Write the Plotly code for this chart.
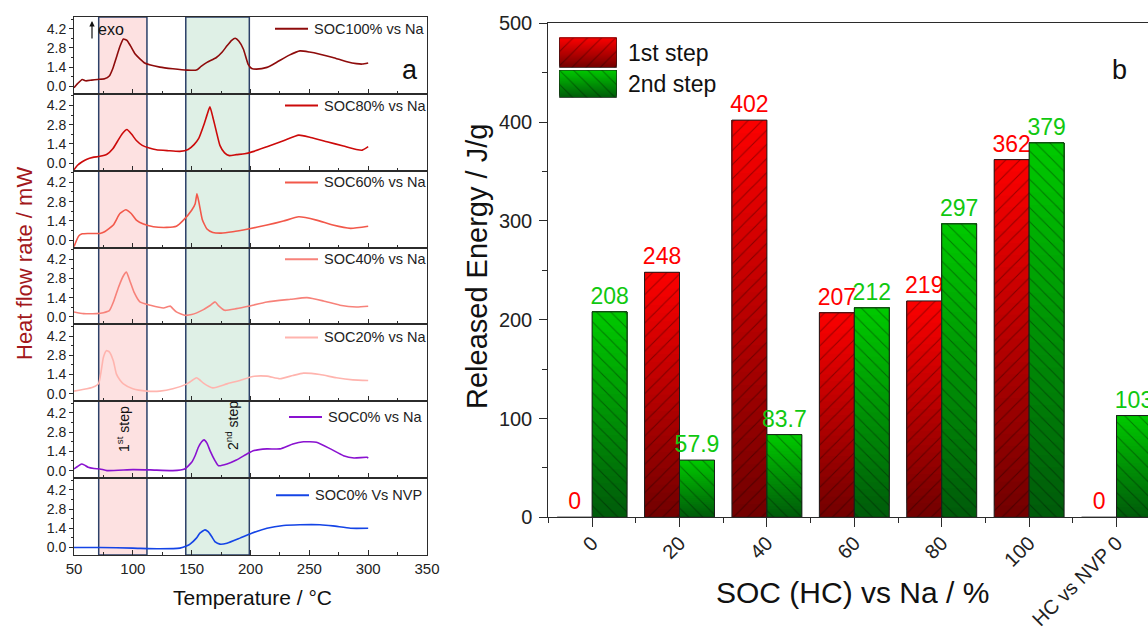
import plotly.graph_objects as go

W, H = 1148, 634
FONT = "Arial, Liberation Sans, sans-serif"


def px(x):
    return x / W


def py(y):
    return 1 - y / H


# ---------------- data: panel a (DSC curves) ----------------
curve_names = ["SOC100% vs Na", "SOC80% vs Na", "SOC60% vs Na", "SOC40% vs Na",
               "SOC20% vs Na", "SOC0% vs Na", "SOC0% Vs NVP"]

T_soc100 = [50, 53, 57, 60, 65, 70, 76, 80, 83, 86, 89, 92, 95, 98, 102, 106, 110, 115, 123, 134, 146,
            154, 158, 163, 171, 176, 180, 184, 187, 190, 194, 198, 201, 205, 214, 222, 233, 242, 250, 259,
            270, 282, 290, 295, 300]
Q_soc100 = [-0.1, 0.2, 0.5, 0.4, 0.45, 0.5, 0.55, 0.75, 1.3, 2.1, 2.9, 3.45, 3.35, 2.95, 2.35, 2.0, 1.7,
            1.55, 1.4, 1.28, 1.18, 1.18, 1.45, 1.74, 2.1, 2.5, 2.95, 3.35, 3.5, 3.3, 2.7, 1.6, 1.3, 1.25,
            1.38, 1.74, 2.27, 2.58, 2.5, 2.34, 2.1, 1.79, 1.65, 1.62, 1.7]

T_soc80 = [50, 53, 57, 61, 66, 72, 78, 83, 87, 91, 95, 99, 103, 108, 114, 120, 130, 140, 147, 152, 156,
           160, 163, 165.5, 168, 171, 174, 178, 182, 188, 195, 202, 214, 228, 241, 251, 265, 279, 290,
           295, 300]
Q_soc80 = [-0.48, -0.15, 0.1, 0.29, 0.42, 0.5, 0.65, 1.05, 1.6, 2.15, 2.45, 2.1, 1.65, 1.3, 1.1, 0.98,
           0.91, 0.86, 1.0, 1.35, 1.8, 2.7, 3.5, 4.1, 3.35, 2.3, 1.3, 0.75, 0.55, 0.62, 0.68, 0.84, 1.2,
           1.63, 2.04, 1.87, 1.56, 1.25, 1.0, 0.95, 1.2]

T_soc60 = [50, 54, 57, 62, 72, 76, 83.4, 89, 94, 98.6, 103, 109, 117.5, 128.8, 137, 143, 150, 153,
           154.5, 156.5, 159, 163, 168, 175, 185, 198, 214, 228, 241, 256, 270, 285, 300]
Q_soc60 = [-0.48, 0.29, 0.45, 0.48, 0.48, 0.6, 1.09, 1.93, 2.2, 1.93, 1.45, 1.16, 0.97, 0.92, 1.0, 1.45,
           2.17, 2.65, 3.36, 2.6, 1.5, 0.8, 0.55, 0.5, 0.6, 0.8, 1.09, 1.38, 1.69, 1.45, 1.09, 0.85, 1.0]

T_soc40 = [50, 58, 69, 75, 80, 84, 88, 92, 94.5, 98, 101, 106, 115, 126, 130, 132, 134, 137, 144, 150,
           160, 166, 170, 173, 178, 188, 198, 214, 234, 248, 262, 276, 290, 300]
Q_soc40 = [0.36, 0.24, 0.24, 0.3, 0.45, 1.2, 2.2, 3.0, 3.26, 2.5, 1.8, 1.09, 0.85, 0.65, 0.75, 0.78,
           0.6, 0.36, 0.12, 0.17, 0.53, 0.85, 1.09, 0.8, 0.48, 0.6, 0.77, 1.09, 1.28, 1.4, 1.16, 0.85,
           0.72, 0.77]

T_soc20 = [50, 61, 68, 71, 73, 75, 77.5, 80, 83.4, 86, 89, 92, 100, 112, 123, 134, 146, 151, 154, 157,
           160, 168, 180, 191, 202, 214, 225, 236, 245, 259, 273, 287, 300]
Q_soc20 = [0.19, 0.36, 0.55, 0.75, 1.6, 2.66, 3.14, 3.05, 2.4, 1.45, 1.0, 0.72, 0.36, 0.19, 0.19, 0.36,
           0.72, 1.0, 1.16, 1.0, 0.77, 0.43, 0.72, 0.97, 1.26, 1.28, 1.09, 1.33, 1.5, 1.4, 1.16, 1.01,
           0.97]

T_soc0 = [50, 53, 56.5, 59, 62, 67, 72, 78, 100, 115, 134, 144, 150, 153, 155.7, 158.5, 160.5, 163,
          165.6, 169.8, 172.7, 180, 188, 198, 203, 214, 225, 236, 245, 256, 268, 279, 288, 299, 300]
Q_soc0 = [0.12, 0.3, 0.48, 0.4, 0.24, 0.15, 0.12, 0.0, 0.07, 0.05, 0.0, 0.12, 0.6, 1.1, 1.7, 2.1, 2.24,
          2.0, 1.46, 0.73, 0.36, 0.48, 0.77, 1.26, 1.46, 1.58, 1.58, 1.94, 2.1, 2.06, 1.58, 1.09, 0.92,
          0.97, 0.9]

T_nvp = [50, 72, 100, 123, 140, 146, 148.6, 154, 157, 161.3, 164, 167, 170, 174, 180, 191, 201, 214,
         228, 242, 259, 270, 285, 300]
Q_nvp = [0.0, 0.0, -0.05, -0.1, -0.05, 0.12, 0.24, 0.68, 1.04, 1.28, 1.15, 0.8, 0.4, 0.24, 0.31, 0.68,
         1.04, 1.4, 1.6, 1.65, 1.65, 1.57, 1.4, 1.4]

curve_T = [T_soc100, T_soc80, T_soc60, T_soc40, T_soc20, T_soc0, T_nvp]
curve_Q = [Q_soc100, Q_soc80, Q_soc60, Q_soc40, Q_soc20, Q_soc0, Q_nvp]
curve_colors = ["#8e0b0b", "#cc0a0a", "#f2584a", "#f7827a", "#ffb4ae", "#8a12d0", "#1444e6"]

step1_range = [71, 112]   # 1st step window (deg C)
step2_range = [145, 199]  # 2nd step window (deg C)

# ---------------- data: panel b (released energy) ----------------
soc_labels = ["0", "20", "40", "60", "80", "100", "HC vs NVP 0"]
energy_step1 = [0, 248, 402, 207, 219, 362, 0]
energy_step2 = [208, 57.9, 83.7, 212, 297, 379, 103]
series_names = ["1st step", "2nd step"]

# ---------------- figure ----------------
fig = go.Figure()
layout = dict(width=W, height=H, margin=dict(l=0, r=0, t=0, b=0, pad=0, autoexpand=False),
              paper_bgcolor="white", plot_bgcolor="rgba(0,0,0,0)",
              showlegend=False, barmode="overlay",
              font=dict(family=FONT, color="#111"))
annotations = []
shapes = []


def note(text, x, y, size, color="#111", angle=0, xanchor="center"):
    return dict(text=text, xref="paper", yref="paper", x=px(x), y=py(y), xanchor=xanchor,
                yanchor="middle", textangle=angle, showarrow=False,
                font=dict(size=size, color=color))


top_px, bot_px = 17, 555
n = len(curve_names)
hp = (bot_px - top_px) / n
legend_y = [4.2, 4.2, 4.2, 4.2, 4.1, 3.9, 3.8]
legend_text_x = [312, 322, 322, 322, 322, 326, 313]
AX = "#2b2b2b"

for k in range(n):
    xs = "" if k == 0 else str(k + 1)
    xname, yname = "x" + xs, "y" + xs
    fig.add_trace(go.Scatter(x=curve_T[k], y=curve_Q[k], mode="lines", xaxis=xname, yaxis=yname,
                             line=dict(color=curve_colors[k], width=1.6, shape="spline", smoothing=0.5),
                             hoverinfo="skip"))
    layout["xaxis" + xs] = dict(domain=[px(74), px(427)], range=[50, 350], anchor=yname,
                                automargin=False,
                                showline=True, mirror=True, linecolor=AX, linewidth=1,
                                ticks="inside", ticklen=5, tickcolor=AX, dtick=50, tick0=50,
                                minor=dict(ticks="inside", ticklen=3, dtick=25, tickcolor=AX),
                                showgrid=False, zeroline=False,
                                showticklabels=(k == n - 1),
                                tickfont=dict(size=15, color="#222"), ticklabelstandoff=0)
    layout["yaxis" + xs] = dict(domain=[py(top_px + (k + 1) * hp), py(top_px + k * hp)],
                                range=[-0.55, 5.05], anchor=xname, automargin=False,
                                showline=True, mirror=True, linecolor=AX, linewidth=1,
                                ticks="outside", ticklen=4, tickcolor=AX, tick0=0, dtick=1.4,
                                tickformat=".1f",
                                minor=dict(ticks="outside", ticklen=2, tick0=0, dtick=0.7, tickcolor=AX),
                                showgrid=False, zeroline=False,
                                tickfont=dict(size=14, color="#222"))
    # legend entries
    tx = legend_text_x[k]
    shapes.append(dict(type="line", xref="paper", yref=yname, x0=px(tx - 37), x1=px(tx - 4),
                       y0=legend_y[k], y1=legend_y[k], line=dict(color=curve_colors[k], width=2)))
    annotations.append(dict(text=curve_names[k], xref="paper", yref=yname, x=px(tx), y=legend_y[k],
                            xanchor="left", yanchor="middle", showarrow=False,
                            font=dict(size=14.5, color="#222")))

# shaded windows spanning all 7 panels
for rng, fc in [(step1_range, "#fde1e1"), (step2_range, "#dff0e6")]:
    shapes.append(dict(type="rect", xref="x", yref="paper", x0=rng[0], x1=rng[1],
                       y0=py(bot_px), y1=py(top_px), fillcolor=fc, layer="below",
                       line=dict(color="#2c4068", width=1.5)))

annotations += [
    note("a", 410, 70, 27),
    note("exo", 96, 29, 16, xanchor="left"),
    dict(text="", xref="paper", yref="paper", x=px(92), y=py(21), ax=0, ay=19, showarrow=True,
         arrowhead=2, arrowsize=0.9, arrowwidth=1.2, arrowcolor="#111"),
    note("1<sup>st</sup> step", 123, 429, 14, angle=-90),
    note("2<sup>nd</sup> step", 232, 426, 14, angle=-90),
    note("Heat flow rate / mW", 24, 264, 22, color="#a3181c", angle=-90),
    note("Temperature / °C", 252, 597, 21),
]


# ---------------- panel b: gradient + hatched bars ----------------
def mix(c0, c1, t):
    return "rgb(%d,%d,%d)" % tuple(round(a + (b - a) * t) for a, b in zip(c0, c1))


RED_BOT, RED_TOP = (115, 0, 0), (250, 0, 0)
GRN_BOT, GRN_TOP = (0, 92, 10), (0, 200, 0)
NSEG = 30


def gradient_bars(xpos, vals, offset, width, cbot, ctop, shape, xa, ya, text=None, tcolor=None):
    for i in range(NSEG):
        f = i / NSEG
        fig.add_trace(go.Bar(x=xpos, y=[v * (1 - f) for v in vals], base=[v * f for v in vals],
                             offset=offset, width=width, xaxis=xa, yaxis=ya,
                             marker=dict(color=mix(cbot, ctop, i / (NSEG - 1)), line=dict(width=0)),
                             hoverinfo="skip"))
    kw = {}
    if text is not None:
        kw = dict(text=text, textposition="outside", cliponaxis=False, constraintext="none",
                  textfont=dict(size=23, color=tcolor, family=FONT))
    fig.add_trace(go.Bar(x=xpos, y=vals, offset=offset, width=width, xaxis=xa, yaxis=ya,
                         marker=dict(color="rgba(0,0,0,0)", line=dict(color="#1c1c1c", width=1),
                                     pattern=dict(shape=shape, fgcolor="rgba(0,0,0,0.7)",
                                                  bgcolor="rgba(0,0,0,0)", size=10, solidity=0.1)),
                         hoverinfo="skip", **kw))


xpos = list(range(len(soc_labels)))
gradient_bars(xpos, energy_step1, -0.4, 0.4, RED_BOT, RED_TOP, "/", "x8", "y8",
              text=[f"{v:g}" for v in energy_step1], tcolor="#ff0000")
gradient_bars(xpos, energy_step2, 0.0, 0.4, GRN_BOT, GRN_TOP, "\\", "x8", "y8",
              text=[f"{v:g}" for v in energy_step2], tcolor="#10c810")

layout["xaxis8"] = dict(domain=[px(548.4), 1.0], range=[-0.5, 6.36], anchor="y8",
                        automargin=False,
                        tickvals=xpos, ticktext=soc_labels, tickangle=-45,
                        showline=True, mirror=True, linecolor=AX, linewidth=1.3,
                        ticks="outside", ticklen=9, tickcolor=AX, tickwidth=1.3,
                        minor=dict(ticks="outside", ticklen=5, tick0=-0.5, dtick=1, tickcolor=AX),
                        showgrid=False, zeroline=False,
                        tickfont=dict(size=20, color="#222"), ticklabelstandoff=-4)
layout["yaxis8"] = dict(domain=[py(517.3), py(23.3)], range=[0, 500], anchor="x8",
                        automargin=False,
                        showline=True, linecolor=AX, linewidth=1.3,
                        ticks="outside", ticklen=8, tickcolor=AX, tickwidth=1.3, dtick=100,
                        minor=dict(ticks="outside", ticklen=5, dtick=50, tickcolor=AX),
                        showgrid=False, zeroline=False,
                        tickfont=dict(size=20, color="#222"), ticklabelstandoff=3)

# legend swatches (drawn as small bars on hidden axes)
for idx, (ya_top, ya_bot, cb, ct, shp) in enumerate([(37.7, 67.7, RED_BOT, RED_TOP, "/"),
                                                      (70.0, 97.7, GRN_BOT, GRN_TOP, "\\")]):
    xa, ya = "x%d" % (9 + idx), "y%d" % (9 + idx)
    gradient_bars([0], [1], -0.5, 1.0, cb, ct, shp, xa, ya)
    layout["xaxis%d" % (9 + idx)] = dict(domain=[px(559.3), px(616.7)], range=[-0.5, 0.5],
                                         anchor=ya, visible=False, fixedrange=True, automargin=False)
    layout["yaxis%d" % (9 + idx)] = dict(domain=[py(ya_bot), py(ya_top)], range=[0, 1],
                                         anchor=xa, visible=False, fixedrange=True, automargin=False)
    annotations.append(note(series_names[idx], 626, (ya_top + ya_bot) / 2, 23, xanchor="left"))

annotations += [
    note("b", 1119, 70, 27),
    note("Released Energy / J/g", 477, 266, 29, angle=-90),
    note("SOC (HC) vs Na / %", 853, 592, 30),
]

layout["annotations"] = annotations
layout["shapes"] = shapes
fig.update_layout(**layout)
fig.write_html("out.html")
